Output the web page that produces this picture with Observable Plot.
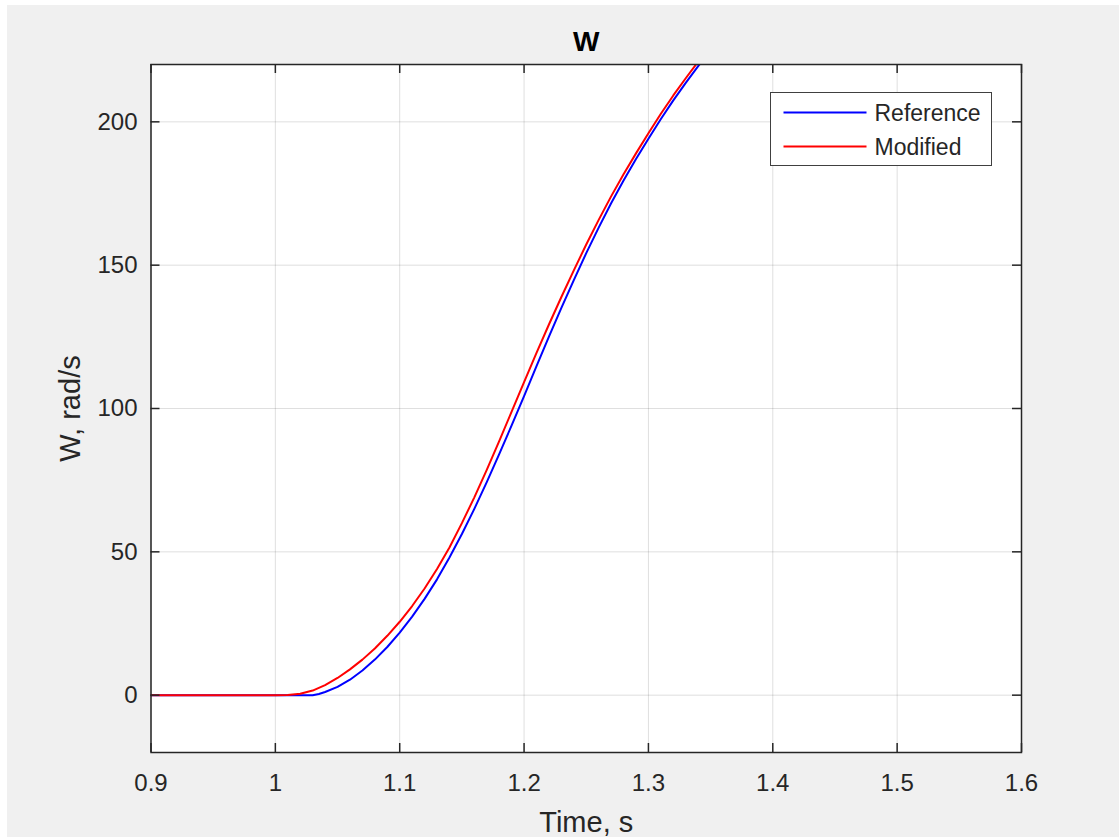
<!DOCTYPE html>
<html>
<head>
<meta charset="utf-8">
<script src="https://cdn.jsdelivr.net/npm/d3@7"></script>
<script src="https://cdn.jsdelivr.net/npm/@observablehq/plot@0.6"></script>
<style>
  html, body { margin: 0; padding: 0; background: #ffffff; }
  body { width: 1119px; height: 837px; position: relative; overflow: hidden; font-family: "Liberation Sans", Arial, Helvetica, sans-serif; }
  #fig { position: absolute; left: 7px; top: 5px; width: 1112px; height: 832px; background: #f0f0f0; }
  #legend { position: absolute; left: 763px; top: 87px; width: 222px; height: 74px; background: #fff; border: 1.5px solid #404040; box-sizing: border-box; }
</style>
</head>
<body>
<div id="fig"></div>
<script>
// ---- data ----
const titleText = "W";
const xLabel = "Time, s";
const yLabel = "W, rad/s";
const seriesNames = ["Reference", "Modified"];
const seriesColors = ["#0000ff", "#ff0000"];
const xTicks = [0.9, 1.0, 1.1, 1.2, 1.3, 1.4, 1.5, 1.6];
const yTicks = [0, 50, 100, 150, 200];

const refT = [0.90, 1.00, 1.03, 1.035, 1.04, 1.05, 1.06, 1.07, 1.08, 1.09, 1.10, 1.11, 1.12, 1.13, 1.14, 1.15, 1.16, 1.17, 1.18, 1.19, 1.20, 1.21, 1.22, 1.23, 1.24, 1.25, 1.26, 1.27, 1.28, 1.29, 1.30, 1.31, 1.32, 1.33, 1.34, 1.35];
const refW = [0, 0, 0, 0.4, 1.1, 2.9, 5.4, 8.6, 12.4, 16.8, 21.8, 27.4, 33.6, 40.4, 48.0, 56.2, 65.0, 74.3, 84.1, 94.1, 104.3, 114.8, 125.1, 135.1, 144.8, 154.2, 163.1, 171.6, 179.5, 187.0, 194.1, 201.0, 207.5, 213.6, 219.4, 225.0];

const modT = [0.90, 1.00, 1.01, 1.02, 1.03, 1.04, 1.05, 1.06, 1.07, 1.08, 1.09, 1.10, 1.11, 1.12, 1.13, 1.14, 1.15, 1.16, 1.17, 1.18, 1.19, 1.20, 1.21, 1.22, 1.23, 1.24, 1.25, 1.26, 1.27, 1.28, 1.29, 1.30, 1.31, 1.32, 1.33, 1.34, 1.35];
const modW = [0, 0, 0.05, 0.5, 1.6, 3.5, 6.0, 9.0, 12.4, 16.3, 20.7, 25.6, 31.1, 37.2, 44.0, 51.5, 60.0, 69.0, 78.6, 88.6, 98.9, 109.2, 119.4, 129.3, 138.9, 148.2, 157.2, 165.8, 174.0, 181.7, 189.0, 196.0, 202.8, 209.2, 215.2, 221.0, 226.5];

// ---- build tables ----
const refData = refT.map((t, i) => ({t, w: refW[i]}));
const modData = modT.map((t, i) => ({t, w: modW[i]}));

const W = 1112, H = 832;
const mL = 143.5, mR = 98, mT = 59, mB = 85;
const fw = W - mL - mR, fh = H - mT - mB;
const tickLen = 9;
const gridStyle = {stroke: "#262626", strokeOpacity: 0.15, strokeWidth: 1};
const font = "'Liberation Sans', Arial, Helvetica, sans-serif";

const chart = Plot.plot({
  width: W,
  height: H,
  marginLeft: mL, marginRight: mR, marginTop: mT, marginBottom: mB,
  style: {background: "#f0f0f0", color: "#262626", fontFamily: font},
  x: {domain: [0.9, 1.6], label: null},
  y: {domain: [-20, 220], label: null},
  marks: [
    Plot.frame({fill: "white", stroke: null}),
    Plot.gridX(xTicks, gridStyle),
    Plot.gridY(yTicks, gridStyle),
    Plot.line(refData, {x: "t", y: "w", stroke: seriesColors[0], strokeWidth: 2, clip: true}),
    Plot.line(modData, {x: "t", y: "w", stroke: seriesColors[1], strokeWidth: 2, clip: true}),
    Plot.frame({stroke: "#262626", strokeWidth: 1.5}),
    Plot.tickX(xTicks, {x: d => d, insetTop: fh - tickLen, stroke: "#262626", strokeWidth: 1.5}),
    Plot.tickX(xTicks, {x: d => d, insetBottom: fh - tickLen, stroke: "#262626", strokeWidth: 1.5}),
    Plot.tickY(yTicks, {y: d => d, insetRight: fw - tickLen, stroke: "#262626", strokeWidth: 1.5}),
    Plot.tickY(yTicks, {y: d => d, insetLeft: fw - tickLen, stroke: "#262626", strokeWidth: 1.5}),
    Plot.axisX(xTicks, {tickSize: 0, tickPadding: 21, tickFormat: d3.format("~g"), fontSize: 24, label: null}),
    Plot.axisY(yTicks, {tickSize: 0, tickPadding: 13.5, tickFormat: d3.format("~g"), fontSize: 24, label: null}),
    Plot.text([titleText], {text: d => d, frameAnchor: "top", dy: -22, fontSize: 28, fontWeight: "bold", fill: "#000", textAnchor: "middle", lineAnchor: "middle"}),
    Plot.text([xLabel], {text: d => d, frameAnchor: "bottom", dy: 70, fontSize: 29, fill: "#262626", textAnchor: "middle", lineAnchor: "middle"}),
    Plot.text([yLabel], {text: d => d, frameAnchor: "left", dx: -80, rotate: -90, fontSize: 29, fill: "#262626", textAnchor: "middle", lineAnchor: "middle"})
  ]
});
document.getElementById("fig").appendChild(chart);

// ---- legend ----
const ns = "http://www.w3.org/2000/svg";
const leg = document.createElement("div");
leg.id = "legend";
const lsvg = document.createElementNS(ns, "svg");
lsvg.setAttribute("width", 219);
lsvg.setAttribute("height", 71);
lsvg.style.display = "block";
seriesNames.forEach((name, i) => {
  const y = 19.5 + i * 34;
  const ln = document.createElementNS(ns, "line");
  ln.setAttribute("x1", 12.5); ln.setAttribute("x2", 95.5);
  ln.setAttribute("y1", y); ln.setAttribute("y2", y);
  ln.setAttribute("stroke", seriesColors[i]); ln.setAttribute("stroke-width", 2);
  lsvg.appendChild(ln);
  const tx = document.createElementNS(ns, "text");
  tx.setAttribute("x", 103.5); tx.setAttribute("y", y);
  tx.setAttribute("dy", "0.35em");
  tx.setAttribute("font-size", 23);
  tx.setAttribute("font-family", font);
  tx.setAttribute("fill", "#262626");
  tx.textContent = name;
  lsvg.appendChild(tx);
});
leg.appendChild(lsvg);
document.getElementById("fig").appendChild(leg);
</script>
</body>
</html>
